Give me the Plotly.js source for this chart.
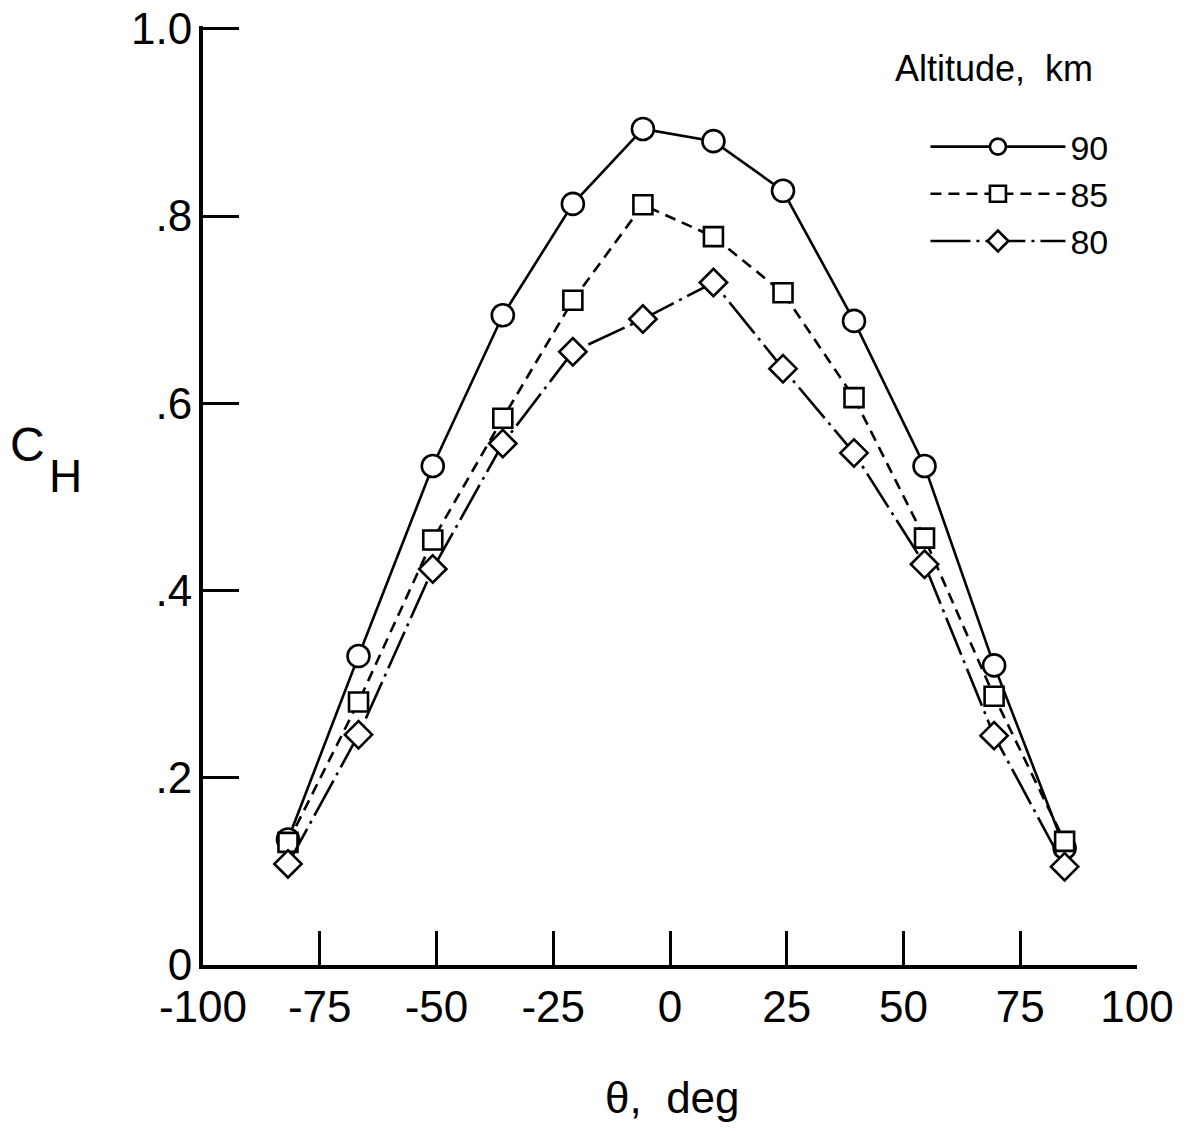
<!DOCTYPE html>
<html>
<head>
<meta charset="utf-8">
<script src="https://cdn.plot.ly/plotly-3.0.1.min.js"></script>
<style>
html,body{margin:0;padding:0;background:#fff;}
#chart{width:1191px;height:1131px;}
</style>
</head>
<body>
<div id="chart"></div>
<script>
// Angle positions, deg
const theta = [-81.8, -66.7, -50.8, -35.8, -20.8, -5.8, 9.3, 24.2, 39.4, 54.5, 69.4, 84.5];
// C_H values per altitude
const ch90 = [0.134, 0.330, 0.533, 0.694, 0.813, 0.893, 0.880, 0.827, 0.688, 0.533, 0.320, 0.125];
const ch85 = [0.131, 0.281, 0.454, 0.584, 0.710, 0.812, 0.778, 0.718, 0.606, 0.456, 0.287, 0.132];
const ch80 = [0.108, 0.246, 0.423, 0.557, 0.655, 0.690, 0.729, 0.637, 0.547, 0.428, 0.245, 0.105];
const seriesNames = ["90", "85", "80"];
const xTickVals = [-100, -75, -50, -25, 0, 25, 50, 75, 100];
const xTickText = ["-100", "-75", "-50", "-25", "0", "25", "50", "75", "100"];
const yTickVals = [0, 0.2, 0.4, 0.6, 0.8, 1.0];
const yTickText = ["0", ".2", ".4", ".6", ".8", "1.0"];

const FONT = "Liberation Sans, Arial, Helvetica, sans-serif";

function trace(y, name, symbol, size, dash) {
  return {
    x: theta, y: y, name: name, type: "scatter", mode: "lines+markers",
    line: {color: "#000", width: 2.6, dash: dash},
    marker: {symbol: symbol, size: size, color: "#fff", line: {color: "#000", width: 2.6}}
  };
}

const data = [
  trace(ch90, seriesNames[0], "circle", 22, "solid"),
  trace(ch85, seriesNames[1], "square", 19, "11px,7px"),
  trace(ch80, seriesNames[2], "diamond", 21, "40px,6px,3px,6px")
];

const layout = {
  width: 1191, height: 1131,
  paper_bgcolor: "#fff", plot_bgcolor: "#fff",
  margin: {l: 203, r: 54, t: 26, b: 166},
  font: {family: FONT, color: "#000", size: 44},
  showlegend: true,
  legend: {
    x: 0.7735, y: 0.902, xanchor: "left", yanchor: "top",
    font: {family: FONT, size: 34, color: "#000"},
    itemwidth: 135, tracegroupgap: 0,
    bgcolor: "rgba(0,0,0,0)", borderwidth: 0
  },
  xaxis: {
    range: [-100, 100], showgrid: false, zeroline: false,
    showline: true, linecolor: "#000", linewidth: 4,
    ticks: "inside", ticklen: 34, tickwidth: 3, tickcolor: "#000",
    tickvals: xTickVals, ticktext: xTickText,
    ticklabelstandoff: 0, ticklabeloverflow: "allow",
    tickfont: {family: FONT, size: 44, color: "#000"}
  },
  yaxis: {
    range: [0, 1.003], showgrid: false, zeroline: false,
    showline: true, linecolor: "#000", linewidth: 4,
    ticks: "inside", ticklen: 36, tickwidth: 3, tickcolor: "#000",
    tickvals: yTickVals, ticktext: yTickText,
    ticklabelstandoff: -2, ticklabeloverflow: "allow",
    tickfont: {family: FONT, size: 44, color: "#000"}
  },
  annotations: [
    {text: "C", xref: "paper", yref: "paper", x: -0.1884, y: 0.554,
     xanchor: "center", yanchor: "middle", showarrow: false,
     font: {family: FONT, size: 48, color: "#000"}},
    {text: "H", xref: "paper", yref: "paper", x: -0.1467, y: 0.521,
     xanchor: "center", yanchor: "middle", showarrow: false,
     font: {family: FONT, size: 46, color: "#000"}},
    {text: "Altitude,\u00a0 km", xref: "paper", yref: "paper", x: 0.7388, y: 0.955,
     xanchor: "left", yanchor: "middle", showarrow: false,
     font: {family: FONT, size: 36, color: "#000"}},
    {text: "\u03b8,\u00a0\u00a0deg", xref: "paper", yref: "paper", x: 0.503, y: -0.141,
     xanchor: "center", yanchor: "middle", showarrow: false,
     font: {family: FONT, size: 44, color: "#000"}}
  ]
};

Plotly.newPlot("chart", data, layout, {staticPlot: true, displayModeBar: false});
</script>
</body>
</html>
